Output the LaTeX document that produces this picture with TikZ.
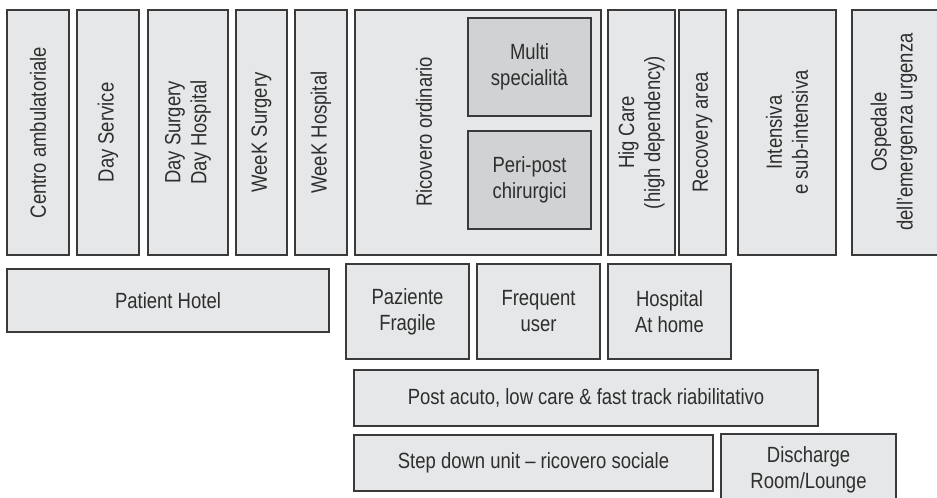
\documentclass[tikz,border=0pt]{standalone}
\usepackage{fontspec}
\setmainfont{Liberation Sans}[FakeStretch=0.84]
\usetikzlibrary{fit}
\definecolor{boxfill}{HTML}{E6E7E8}
\definecolor{innerfill}{HTML}{D1D2D3}
\definecolor{edge}{HTML}{3A3A3A}
\definecolor{ink}{HTML}{2E2E2E}
\begin{document}
\begin{tikzpicture}[x=0.75pt,y=-0.75pt,
  box/.style={draw=edge, fill=boxfill, line width=0.9pt, inner sep=0pt, rectangle},
  inbox/.style={box, fill=innerfill},
  txt/.style={text=ink, align=center, inner sep=0pt, font=\fontsize{16.5}{19.5}\selectfont},
  vtxt/.style={txt, rotate=90}]
\useasboundingbox (0,0) rectangle (937,498);
\clip (0,0) rectangle (937,498);
% top row
\node[box, fit={(7,10)(69,255)}] (centro) {};
\node[vtxt] (centroT) at (centro.center) {Centro ambulatoriale};
\node[box, fit={(77,10)(139,255)}] (dayserv) {};
\node[vtxt] (dayservT) at (dayserv.center) {Day Service};
\node[box, fit={(148,10)(228,255)}] (daysurg) {};
\node[vtxt] (daysurgT) at (daysurg.center) {Day Surgery\\Day Hospital};
\node[box, fit={(236,10)(287,255)}] (weeksurg) {};
\node[vtxt] (weeksurgT) at (weeksurg.center) {WeeK Surgery};
\node[box, fit={(295,10)(347,255)}] (weekhosp) {};
\node[vtxt] (weekhospT) at (weekhosp.center) {WeeK Hospital};
\node[box, fit={(355,10)(601,255)}] (ricovero) {};
\node[vtxt] (ricoveroT) at (424,132) {Ricovero ordinario};
\node[inbox, fit={(468,18)(591,116)}] (multi) {};
\node[txt] (multiT) at (multi.center) {Multi\\specialità};
\node[inbox, fit={(468,131)(591,229)}] (peri) {};
\node[txt] (periT) at (peri.center) {Peri-post\\chirurgici};
\node[box, fit={(608,10)(675,255)}] (higcare) {};
\node[vtxt] (higcareT) at (higcare.center) {Hig Care\\(high dependency)};
\node[box, fit={(679,10)(726,255)}] (recovery) {};
\node[vtxt] (recoveryT) at (recovery.center) {Recovery area};
\node[box, fit={(738,10)(836,255)}] (intensiva) {};
\node[vtxt] (intensivaT) at (intensiva.center) {Intensiva\\e sub-intensiva};
\node[box, fit={(852,10)(945,255)}] (ospedale) {};
\node[vtxt] (ospedaleT) at (894,132) {Ospedale\\dell’emergenza urgenza};
% second row
\node[box, fit={(7,269)(329,332)}] (hotel) {};
\node[txt] (hotelT) at (hotel.center) {Patient Hotel};
\node[box, fit={(346,264)(469,359)}] (fragile) {};
\node[txt] (fragileT) at (fragile.center) {Paziente\\Fragile};
\node[box, fit={(477,264)(600,359)}] (frequent) {};
\node[txt] (frequentT) at (frequent.center) {Frequent\\user};
\node[box, fit={(608,264)(731,359)}] (home) {};
\node[txt] (homeT) at (home.center) {Hospital\\At home};
% lower rows
\node[box, fit={(354,370)(818,426)}] (postacuto) {};
\node[txt] (postacutoT) at (postacuto.center) {Post acuto, low care \& fast track riabilitativo};
\node[box, fit={(354,435)(713,491)}] (stepdown) {};
\node[txt] (stepdownT) at (stepdown.center) {Step down unit – ricovero sociale};
\node[box, fit={(721,434)(896,508)}] (discharge) {};
\node[txt] (dischargeT) at (808.5,470) {Discharge\\Room/Lounge};
\end{tikzpicture}
\end{document}
